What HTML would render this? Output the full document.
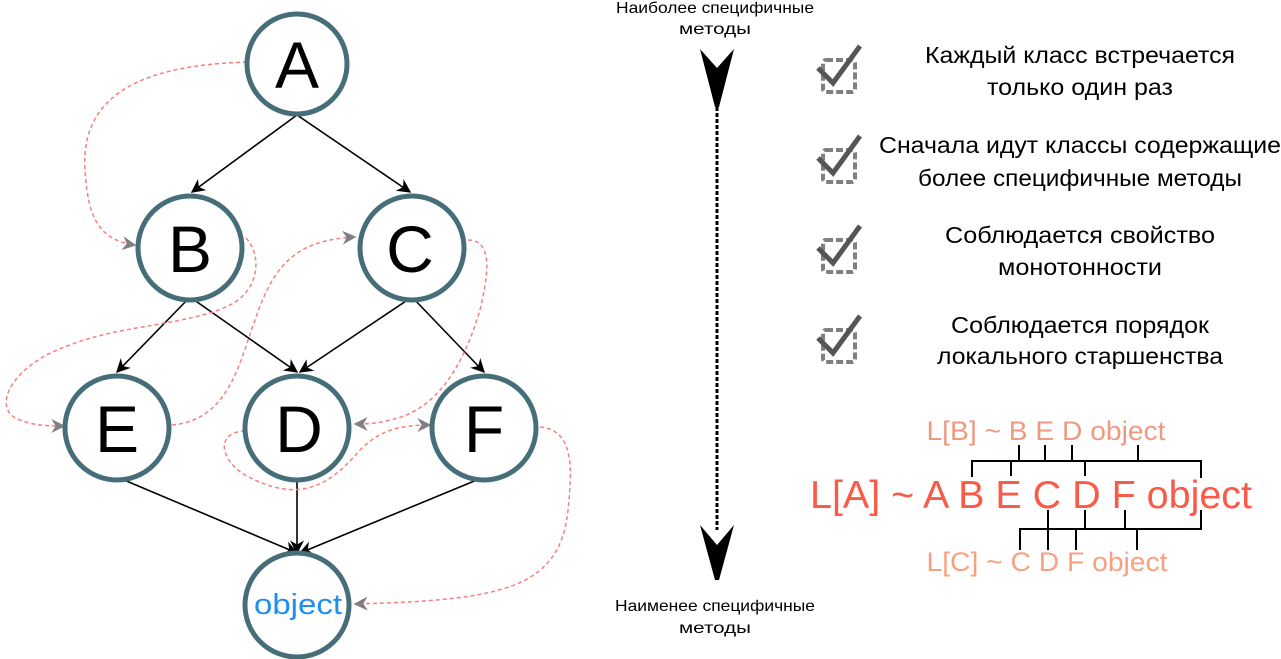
<!DOCTYPE html>
<html><head><meta charset="utf-8"><style>
body{margin:0;background:#fff;width:1281px;height:659px;overflow:hidden}
svg{display:block;font-family:"Liberation Sans",sans-serif}
</style></head><body>
<svg width="1281" height="659" viewBox="0 0 1281 659">
<defs>
<marker id="ab" viewBox="0 0 10 10" refX="9" refY="5" markerWidth="14" markerHeight="14" orient="auto" markerUnits="userSpaceOnUse"><path d="M0,0 L10,5 L0,10 L3,5z" fill="#000"/></marker>
<marker id="ag" viewBox="0 0 10 10" refX="9" refY="5" markerWidth="18" markerHeight="14" orient="auto" markerUnits="userSpaceOnUse"><path d="M0,0 L10,5 L0,10 L3,5z" fill="#808080"/></marker>
</defs>
<g stroke="#000" stroke-width="1.6" fill="none" marker-end="url(#ab)">
<line x1="297" y1="115" x2="192" y2="192"/>
<line x1="297" y1="115" x2="410" y2="192"/>
<line x1="190" y1="297" x2="117" y2="372"/>
<line x1="190" y1="297" x2="297" y2="372"/>
<line x1="412" y1="297" x2="300" y2="372"/>
<line x1="412" y1="297" x2="484" y2="372"/>
<line x1="117" y1="477" x2="297" y2="553"/>
<line x1="297" y1="477" x2="297" y2="553"/>
<line x1="484" y1="477" x2="300" y2="553"/>
</g>
<g stroke="#f87f7a" stroke-width="1.5" stroke-dasharray="4,3" fill="none" marker-end="url(#ag)">
<path d="M247,62 C150,65 80,90 85,170 C88,220 100,240 135,245"/>
<path d="M246,238 C262,255 260,290 230,305 C190,325 120,325 70,345 C10,365 -10,410 20,420 C35,426 50,426 64,426"/>
<path d="M172,425 C230,420 240,360 255,320 C275,260 300,240 355,237"/>
<path d="M468,240 C495,240 487,280 480,310 C465,360 440,410 390,420 C375,424 365,424 355,424"/>
<path d="M245,431 C215,432 220,460 245,475 C300,505 330,485 360,450 C380,430 400,425 430,425"/>
<path d="M540,427 C575,430 572,470 568,510 C560,590 500,600 355,604"/>
</g>
<g fill="#fff" stroke="#466e78" stroke-width="5">
<circle cx="297" cy="64" r="50"/>
<circle cx="190" cy="248" r="52"/>
<circle cx="412" cy="248" r="52"/>
<circle cx="117" cy="428" r="52"/>
<circle cx="297" cy="428" r="52"/>
<circle cx="484" cy="428" r="52"/>
<circle cx="297" cy="605" r="52"/>
</g>
<g font-size="66" text-anchor="middle" fill="#000">
<text x="297" y="88">A</text>
<text x="190" y="272">B</text>
<text x="410" y="272">C</text>
<text x="117" y="452">E</text>
<text x="299" y="452">D</text>
<text x="484" y="452">F</text>
</g>
<text x="298" y="614" font-size="29" text-anchor="middle" fill="#1e8ff0" textLength="88" lengthAdjust="spacingAndGlyphs">object</text>

<g font-size="16" text-anchor="middle" fill="#000">
<text x="715" y="13" textLength="198" lengthAdjust="spacingAndGlyphs">Наиболее специфичные</text>
<text x="715" y="34" textLength="72" lengthAdjust="spacingAndGlyphs">методы</text>
<text x="715" y="611" textLength="200" lengthAdjust="spacingAndGlyphs">Наименее специфичные</text>
<text x="715" y="633" textLength="72" lengthAdjust="spacingAndGlyphs">методы</text>
</g>
<line x1="717" y1="95" x2="717" y2="530" stroke="#000" stroke-width="3" stroke-dasharray="4,2"/>
<path d="M700,49 L717,68 L734,49 L719,107 L715,107z" fill="#000"/>
<path d="M700,525 L717,545 L734,525 L719,580 L715,580z" fill="#000"/>

<g>
<g transform="translate(0,0)">
<rect x="823" y="60" width="32" height="32" rx="3" fill="none" stroke="#808080" stroke-width="4" stroke-dasharray="7,3"/>
<path d="M818,68 L833,83 L860,46" fill="none" stroke="#555" stroke-width="5"/>
</g>
<g transform="translate(0,90)">
<rect x="823" y="60" width="32" height="32" rx="3" fill="none" stroke="#808080" stroke-width="4" stroke-dasharray="7,3"/>
<path d="M818,68 L833,83 L860,46" fill="none" stroke="#555" stroke-width="5"/>
</g>
<g transform="translate(0,180)">
<rect x="823" y="60" width="32" height="32" rx="3" fill="none" stroke="#808080" stroke-width="4" stroke-dasharray="7,3"/>
<path d="M818,68 L833,83 L860,46" fill="none" stroke="#555" stroke-width="5"/>
</g>
<g transform="translate(0,270)">
<rect x="823" y="60" width="32" height="32" rx="3" fill="none" stroke="#808080" stroke-width="4" stroke-dasharray="7,3"/>
<path d="M818,68 L833,83 L860,46" fill="none" stroke="#555" stroke-width="5"/>
</g>
</g>
<g font-size="23" text-anchor="middle" fill="#000">
<text x="1080" y="63" textLength="310" lengthAdjust="spacingAndGlyphs">Каждый класс встречается</text>
<text x="1080" y="95" textLength="186" lengthAdjust="spacingAndGlyphs">только один раз</text>
<text x="1080" y="153" textLength="402" lengthAdjust="spacingAndGlyphs">Сначала идут классы содержащие</text>
<text x="1080" y="186" textLength="324" lengthAdjust="spacingAndGlyphs">более специфичные методы</text>
<text x="1080" y="243" textLength="270" lengthAdjust="spacingAndGlyphs">Соблюдается свойство</text>
<text x="1080" y="275" textLength="164" lengthAdjust="spacingAndGlyphs">монотонности</text>
<text x="1080" y="333" textLength="258" lengthAdjust="spacingAndGlyphs">Соблюдается порядок</text>
<text x="1080" y="364" textLength="286" lengthAdjust="spacingAndGlyphs">локального старшенства</text>
</g>
<text x="1046" y="440" font-size="27" text-anchor="middle" fill="#ee9a80" textLength="239" lengthAdjust="spacingAndGlyphs">L[B] ~ B E D object</text>
<text x="1031" y="508" font-size="39" text-anchor="middle" fill="#fa5a48" textLength="442" lengthAdjust="spacingAndGlyphs">L[A] ~ A B E C D F object</text>
<text x="1047" y="571" font-size="27" text-anchor="middle" fill="#f9a080" textLength="241" lengthAdjust="spacingAndGlyphs">L[C] ~ C D F object</text>
<g stroke="#000" stroke-width="2" fill="none">
<path d="M972,477 V461 H1201 V478"/>
<path d="M1011,476 V461 M1085,476 V461 M1019,461 V445 M1045,461 V445 M1072,461 V445 M1138,461 V445"/>
<path d="M1020,550 V529 H1201 V510"/>
<path d="M1048,510 V550 M1085,510 V529 M1125,510 V529 M1076,529 V550 M1137,529 V550"/>
</g>
</svg>
</body></html>
